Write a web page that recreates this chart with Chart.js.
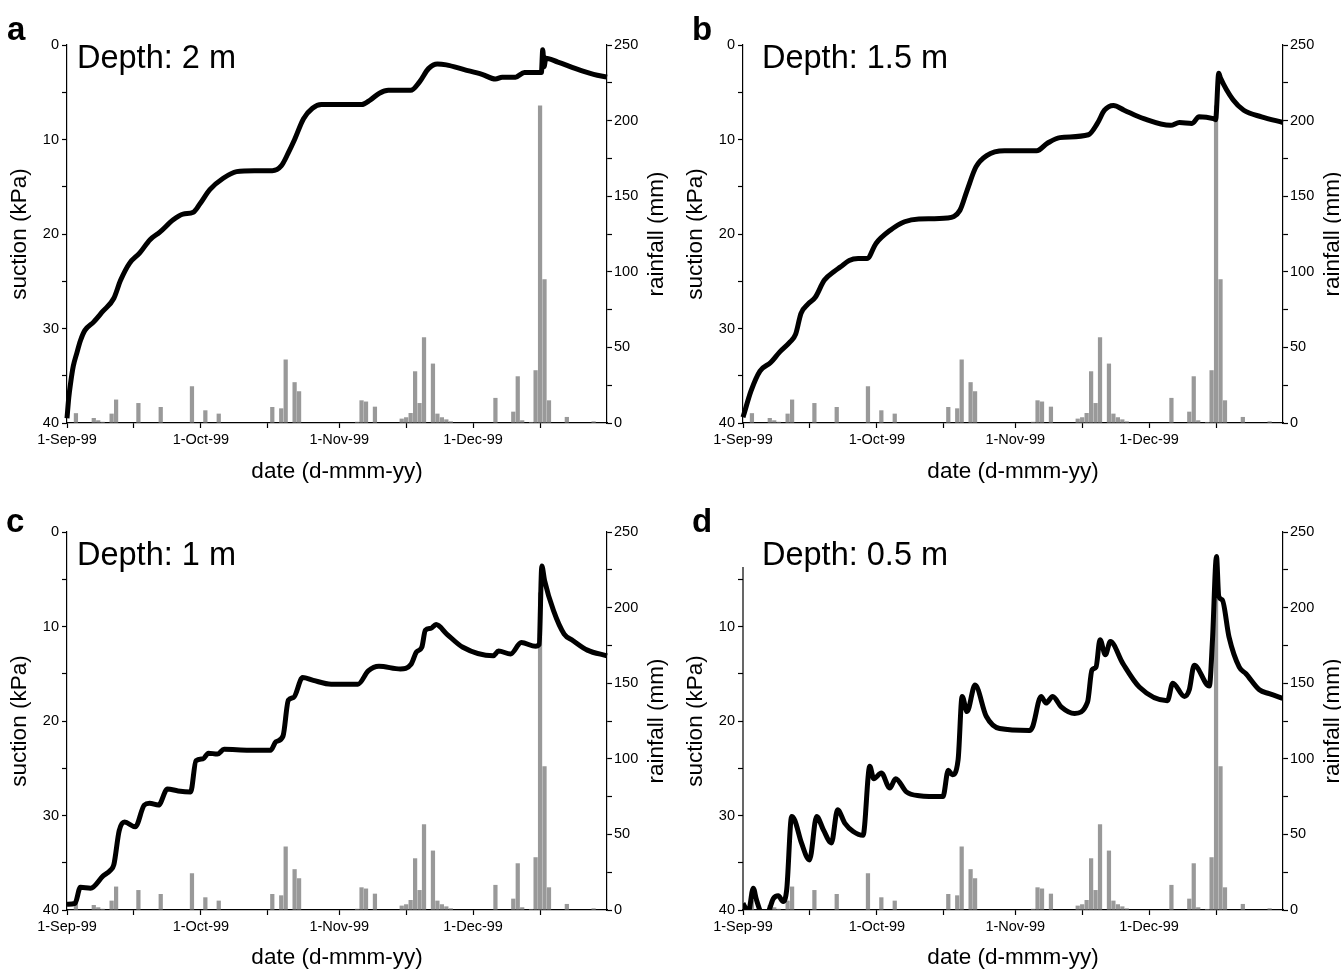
<!DOCTYPE html>
<html>
<head>
<meta charset="utf-8">
<title>suction and rainfall</title>
<script src="https://cdn.jsdelivr.net/npm/chart.js@4.4.0/dist/chart.umd.min.js"></script>
<style>
  body { margin: 0; background: #fff; width: 1341px; height: 971px; overflow: hidden; position: relative; }
  canvas { position: absolute; }
</style>
</head>
<body>
<canvas id="pa" width="670" height="485" style="left:0;top:0"></canvas>
<canvas id="pb" width="665" height="485" style="left:676px;top:0"></canvas>
<canvas id="pc" width="670" height="484" style="left:0;top:487px"></canvas>
<canvas id="pd" width="665" height="484" style="left:676px;top:487px"></canvas>
<script>
// days counted from 1-Sep-99
var tickDays = [0, 15, 30, 45, 61, 76, 91, 106];
var tickLabels = ['1-Sep-99', '', '1-Oct-99', '', '1-Nov-99', '', '1-Dec-99', ''];

// daily rainfall (mm)
var rainDays = [2, 6, 7, 8, 10, 11, 16, 21, 28, 31, 34, 46, 48, 49, 51, 52, 65, 66, 67, 69,
    75, 76, 77, 78, 79, 80, 82, 83, 84, 85, 86, 96, 100, 101, 102, 104, 105, 106, 107, 108, 112, 118];
var rainMm = [6.5, 3.3, 1.8, 0.8, 6.2, 15.5, 13.2, 10.6, 24.3, 8.4, 6.2, 10.6, 9.7, 42, 27, 21, 0.8, 15, 14.2, 10.8,
    2.9, 3.8, 6.6, 34.2, 13.2, 56.7, 39.3, 6.2, 3.8, 2.4, 1.1, 16.6, 7.5, 30.9, 1.8, 0.7, 34.9, 210, 95, 15, 4, 1.1];

// suction (kPa) at 2 m
var daysA = [0, 0.4, 0.8, 1.4, 2.2, 3, 4, 6, 8, 10.5, 12, 14, 16.3, 18.6, 20.8, 23.8, 26, 28.3, 29.8, 32,
    35, 38, 42, 46, 48, 49.5, 51, 53, 55, 57, 61, 66, 68, 70, 72, 77, 79, 81, 83, 85,
    89, 93, 96, 97.5, 100.5, 102.5, 105.6, 106.3, 106.6, 106.9, 107.3, 110, 114, 118, 121];
var suctionA = [39.5, 37.3, 35.8, 34, 32.6, 31.3, 30.2, 29.3, 28.2, 26.8, 24.9, 23.1, 22, 20.6, 19.8, 18.5, 17.9, 17.7, 16.8, 15.3,
    14.1, 13.4, 13.3, 13.3, 12.8, 11.5, 10, 7.8, 6.7, 6.3, 6.3, 6.3, 5.8, 5.1, 4.8, 4.8, 3.9, 2.5, 2.0, 2.1,
    2.6, 3.1, 3.6, 3.4, 3.4, 2.9, 2.9, 2.9, 0.5, 2.3, 1.4, 1.8, 2.5, 3.1, 3.4];

// suction (kPa) at 1.5 m
var daysB = [0, 1.8, 3.8, 6.2, 8.2, 10.6, 11.8, 13, 14.6, 16.2, 18.2, 20.6, 21.8, 23.8, 25.8, 27.8, 29.8, 33, 36.2, 39.4,
    45.8, 48.6, 50.2, 52.2, 54.6, 58.6, 65.8, 68.2, 71, 77.4, 79.4, 81, 83, 85.4, 89.8, 95.8, 97.8, 100.6, 102.2, 105.4,
    105.9, 106.6, 107, 109.8, 112.2, 116.2, 121];
var suctionB = [39.4, 36.6, 34.5, 33.6, 32.5, 31.4, 30.6, 28.4, 27.4, 26.7, 24.9, 23.9, 23.5, 22.8, 22.6, 22.6, 21.0, 19.6, 18.7, 18.4,
    18.3, 17.5, 15.4, 12.9, 11.7, 11.2, 11.2, 10.4, 9.8, 9.5, 8.3, 6.9, 6.4, 6.9, 7.8, 8.5, 8.2, 8.3, 7.6, 7.8,
    7.9, 3.0, 3.5, 5.8, 6.9, 7.6, 8.2];

// suction (kPa) at 1 m
var daysC = [0, 1.8, 3, 5.3, 8.1, 9.7, 10.5, 11.7, 12.9, 15.3, 17.3, 18.5, 20.5, 22.5, 24.9, 27.7, 28.9, 30.5, 31.7, 33.7,
    35.2, 40.8, 45.6, 46.8, 48.4, 49.6, 50.8, 52.8, 55.2, 59.2, 65.2, 67.5, 69.9, 74.7, 77.1, 78.3, 79.5, 80.3, 81.5, 82.7,
    85.1, 88.7, 95.5, 96.7, 99.4, 101.8, 105, 105.8, 106.4, 107, 109, 111.4, 113.4, 116.6, 121];
var suctionC = [39.4, 39.3, 37.6, 37.7, 36.4, 35.8, 35.2, 31.6, 30.7, 31.2, 28.9, 28.7, 28.9, 27.2, 27.4, 27.5, 24.2, 24.0, 23.4, 23.5,
    23.0, 23.1, 23.1, 22.2, 21.6, 17.8, 17.5, 15.4, 15.7, 16.1, 16.1, 14.7, 14.2, 14.5, 14.0, 12.7, 12.2, 10.4, 10.2, 9.8,
    10.8, 12.2, 13.1, 12.6, 12.9, 11.7, 12.1, 11.9, 3.6, 5.1, 8.3, 10.8, 11.5, 12.5, 13.1];

// suction (kPa) at 0.5 m
var daysD = [0, 1.2, 2.3, 3.0, 4.1, 4.9, 5.7, 6.8, 7.9, 9.0, 9.8, 10.9, 11.6, 13.1, 14.9, 16.5, 18.0, 19.8, 21.2, 22.8,
    24.7, 26.9, 28.4, 29.3, 31.0, 32.9, 34.2, 36.6, 39.5, 44.8, 46.0, 46.9, 48.2, 49.1, 50.2, 52.0, 54.5, 57.5, 64.2, 64.9,
    66.8, 67.9, 69.4, 71.3, 74.3, 77.2, 78.2, 79.1, 80.0, 81.2, 82.3, 85.1, 88.8, 95.1, 96.3, 98.9, 100.0, 101.1, 104.5, 105.2,
    106.1, 106.6, 107.4, 108.9, 111.2, 112.7, 115.7, 117.9, 121];
var suctionD = [39.3, 40.2, 37.7, 38.9, 40.4, 40.8, 40.2, 38.8, 38.5, 39.1, 37.8, 30.1, 30.5, 32.9, 34.7, 30.1, 31.5, 32.9, 29.4, 30.8,
    31.7, 32.1, 24.8, 26.1, 25.5, 27.1, 26.1, 27.5, 27.9, 28.0, 25.2, 25.7, 24.1, 17.4, 19.0, 16.2, 19.5, 20.8, 21.0, 20.6,
    17.4, 18.1, 17.4, 18.5, 19.2, 18.0, 14.6, 14.3, 11.4, 13.0, 11.6, 13.9, 16.4, 17.85, 16.0, 17.4, 16.7, 14.1, 16.3, 11.4,
    2.6, 6.8, 7.2, 11.1, 14.3, 15.0, 16.7, 17.1, 17.6];

var fontFam = "'Liberation Sans', Arial, Helvetica, sans-serif";
Chart.defaults.font.family = fontFam;
Chart.defaults.color = '#000';

// panel letter, depth label, right axis title and (for d) the short left axis line
var panelText = {
    id: 'panelText',
    afterDraw: function (chart, args, o) {
        var ctx = chart.ctx;
        var a = chart.chartArea;
        ctx.save();
        ctx.fillStyle = '#000';
        ctx.textBaseline = 'alphabetic';
        ctx.font = 'bold 33px ' + fontFam;
        ctx.fillText(o.letter, o.letterX, o.letterY);
        ctx.font = '32.5px ' + fontFam;
        ctx.fillText(o.depth, o.depthX, o.depthY);

        if (o.axisFrom !== undefined) {
            var ys = chart.scales.y;
            ctx.strokeStyle = '#000';
            ctx.lineWidth = 1.2;
            ctx.beginPath();
            ctx.moveTo(a.left, ys.getPixelForValue(o.axisFrom));
            ctx.lineTo(a.left, a.bottom);
            ctx.stroke();
        }

        ctx.translate(a.right + 50, (a.top + a.bottom) / 2);
        ctx.rotate(-Math.PI / 2);
        ctx.textAlign = 'center';
        ctx.textBaseline = 'middle';
        ctx.font = '22.5px ' + fontFam;
        ctx.fillText('rainfall (mm)', 0, 0);
        ctx.restore();
    }
};

function makePanel(id, days, suction, text, shortAxis) {
    var canvas = document.getElementById(id);
    var W = canvas.width, H = canvas.height;
    var linePts = days.map(function (d, i) { return { x: d, y: suction[i] }; });
    var barPts = rainDays.map(function (d, i) { return { x: d, y: rainMm[i] }; });
    var tickGrid = { drawOnChartArea: false, tickLength: 5, color: '#000', tickWidth: 1.2 };
    var axisBorder = { display: true, color: '#000', width: 1.2 };

    return new Chart(canvas, {
        type: 'bar',
        data: {
            datasets: [{
                type: 'line',
                data: linePts,
                yAxisID: 'y',
                borderColor: '#000',
                borderWidth: 5,
                pointRadius: 0,
                cubicInterpolationMode: 'monotone',
                borderJoinStyle: 'round',
                clip: shortAxis ? 0 : 3,
                order: 1
            }, {
                type: 'bar',
                data: barPts,
                yAxisID: 'y1',
                backgroundColor: '#999999',
                barPercentage: 0.95,
                categoryPercentage: 1,
                order: 2
            }]
        },
        options: {
            responsive: false,
            animation: false,
            layout: { padding: { top: 45, left: 0, right: 0, bottom: 0 } },
            plugins: {
                legend: { display: false },
                tooltip: { enabled: false },
                panelText: text
            },
            scales: {
                x: {
                    type: 'linear',
                    min: 0,
                    max: 121,
                    offset: false,
                    afterFit: function (s) { s.height = H - 423; },
                    afterBuildTicks: function (s) {
                        s.ticks = tickDays.map(function (v) { return { value: v }; });
                    },
                    ticks: {
                        autoSkip: false,
                        maxRotation: 0,
                        padding: 3,
                        font: { size: 14.5 },
                        callback: function (v) {
                            var k = tickDays.indexOf(v);
                            return k < 0 ? '' : tickLabels[k];
                        }
                    },
                    grid: { drawOnChartArea: false, tickLength: 5, color: '#000', tickWidth: 1.2, offset: false },
                    border: axisBorder,
                    title: { display: true, text: 'date (d-mmm-yy)', font: { size: 22.5 }, padding: { top: 0, bottom: 0 } }
                },
                y: {
                    position: 'left',
                    reverse: true,
                    min: 0,
                    max: 40,
                    afterFit: function (s) { s.width = 67; },
                    afterBuildTicks: function (s) {
                        if (shortAxis) {
                            s.ticks = s.ticks.filter(function (t) { return t.value >= 5; });
                        }
                    },
                    ticks: {
                        stepSize: 5,
                        autoSkip: false,
                        padding: 3,
                        font: { size: 14.5 },
                        callback: function (v) { return v % 10 === 0 ? v : ''; }
                    },
                    grid: tickGrid,
                    border: { display: !shortAxis, color: '#000', width: 1.2 },
                    title: { display: true, text: 'suction (kPa)', font: { size: 22.5 }, padding: { top: 6, bottom: 0 } }
                },
                y1: {
                    position: 'right',
                    min: 0,
                    max: 250,
                    afterFit: function (s) { s.width = W - 607; },
                    ticks: {
                        stepSize: 25,
                        autoSkip: false,
                        padding: 2,
                        font: { size: 14.5 },
                        callback: function (v) { return v % 50 === 0 ? v : ''; }
                    },
                    grid: tickGrid,
                    border: axisBorder
                }
            }
        },
        plugins: [panelText]
    });
}

makePanel('pa', daysA, suctionA, { letter: 'a', letterX: 7, letterY: 40, depth: 'Depth: 2 m', depthX: 77, depthY: 68 }, false);
makePanel('pb', daysB, suctionB, { letter: 'b', letterX: 16, letterY: 40, depth: 'Depth: 1.5 m', depthX: 86, depthY: 68 }, false);
makePanel('pc', daysC, suctionC, { letter: 'c', letterX: 6, letterY: 45, depth: 'Depth: 1 m', depthX: 77, depthY: 78 }, false);
makePanel('pd', daysD, suctionD, { letter: 'd', letterX: 16, letterY: 45, depth: 'Depth: 0.5 m', depthX: 86, depthY: 78, axisFrom: 3.7 }, true);
</script>
</body>
</html>
